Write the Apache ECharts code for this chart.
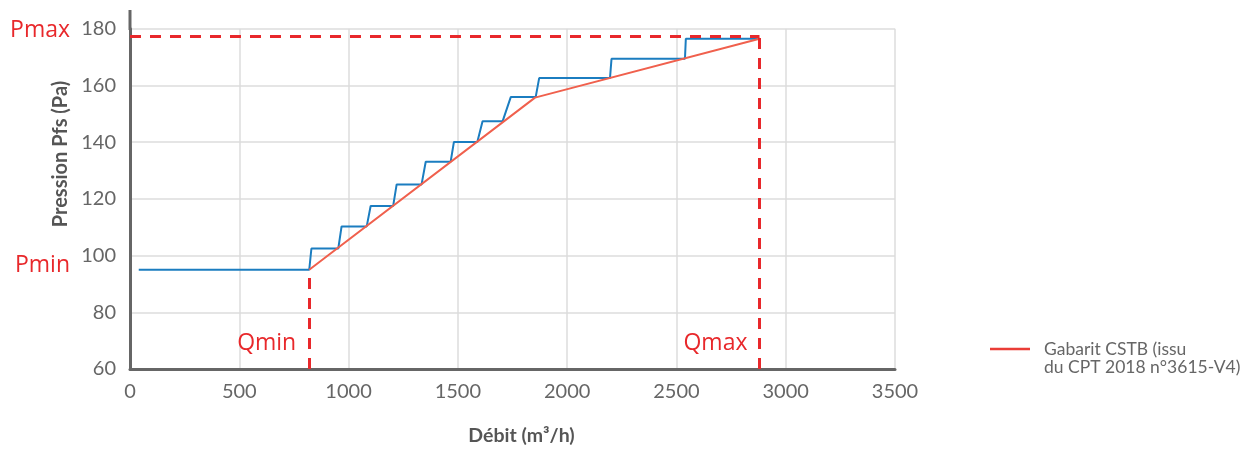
<!DOCTYPE html>
<html><head><meta charset="utf-8">
<script src="https://cdn.jsdelivr.net/npm/echarts@6/dist/echarts.min.js"></script>
<style>html,body{margin:0;padding:0;background:#fff}#c{width:1243px;height:451px}</style>
</head><body><div id="c"></div>
<script>
// Data
const xTicks = [0, 500, 1000, 1500, 2000, 2500, 3000, 3500];
const yTicks = [60, 80, 100, 120, 140, 160, 180];
const stepLine = [[40,95],[820,95],[830,102.5],[953,102.5],[968,110.3],[1083,110.3],[1101,117.5],[1204,117.5],[1220,125.1],[1334,125.1],[1353,133.1],[1467,133.1],[1482,140.1],[1589,140.1],[1613,147.4],[1705,147.4],[1742,155.9],[1856,155.9],[1872,162.6],[2196,162.6],[2203,169.4],[2539,169.4],[2543,176.5],[2880,176.5]];
const gabarit = [[820,95],[1853,155.7],[2880,176.5]];
const QMIN = 820, QMAX = 2880, PMIN = 95, PMAX = 177.5;
const gabaritName = 'Gabarit CSTB (issu\ndu CPT 2018 n°3615-V4)';

const chart = echarts.init(document.getElementById('c'));
const RED = '#e8282b';
const FONT = 'Lato';
chart.setOption({
  animation: false,
  textStyle: {fontFamily: FONT},
  grid: {left: 130, right: 348, top: 28.75, bottom: 78.75, containLabel: false},
  xAxis: {
    type: 'value', min: xTicks[0], max: xTicks[xTicks.length-1], interval: 500,
    name: 'Débit (m³/h)', nameLocation: 'middle', nameGap: 57,
    nameTextStyle: {fontFamily: FONT, fontWeight: 'bold', fontSize: 19.5, color: '#555', padding: [0, 0, 0, 18]},
    axisLine: {show: true, onZero: false, lineStyle: {color: '#666', width: 3}},
    axisTick: {show: false},
    axisLabel: {color: '#666', fontSize: 20, margin: 13, formatter: v => String(v)},
    splitLine: {show: true, lineStyle: {color: '#dcdcdc', width: 1.5}}
  },
  yAxis: {
    type: 'value', min: yTicks[0], max: yTicks[yTicks.length-1], interval: 20,
    axisLine: {show: true, lineStyle: {color: '#666', width: 3}},
    axisTick: {show: false},
    axisLabel: {color: '#666', fontSize: 20, margin: 14, formatter: v => String(v)},
    splitLine: {show: true, lineStyle: {color: '#dcdcdc', width: 1.5}}
  },
  legend: {
    data: [{name: gabaritName, icon: 'rect', itemStyle: {color: '#ea3d36'}}],
    left: 990, top: 322, padding: 0,
    itemWidth: 40, itemHeight: 2.5, itemGap: 10,
    formatter: n => '\n' + n.split('\n').map(s => '  ' + s).join('\n'),
    textStyle: {color: '#666', fontSize: 17.5, lineHeight: 18}
  },
  graphic: [
    {type: 'line', shape: {x1: 130, y1: 10, x2: 130, y2: 30}, style: {stroke: '#666', lineWidth: 3}},
    {type: 'text', x: 61, y: 154, rotation: Math.PI/2,
     style: {text: 'Pression Pfs (Pa)', fontFamily: FONT, fontWeight: 'bold', fontSize: 20, fill: '#555', textAlign: 'center', textVerticalAlign: 'middle'}}
  ],
  series: [
    {
      type: 'line', name: 'Débit', data: stepLine, showSymbol: false, symbol: 'none',
      lineStyle: {color: '#1b7dc0', width: 2}, itemStyle: {color: '#1b7dc0'}, z: 2
    },
    {
      type: 'line', name: gabaritName, data: gabarit, showSymbol: false, symbol: 'none',
      lineStyle: {color: '#f0604d', width: 2}, itemStyle: {color: '#f0604d'}, z: 3,
      markLine: {
        silent: true, symbol: 'none', animation: false,
        lineStyle: {color: RED, width: 3, type: [11, 9]},
        label: {show: false},
        data: [
          [{coord: [0, PMAX]}, {coord: [QMAX, PMAX]}],
          [{coord: [QMIN, 60]}, {coord: [QMIN, PMIN]}],
          [{coord: [QMAX, 60]}, {coord: [QMAX, PMAX]}]
        ]
      },
      markPoint: {
        silent: true, symbol: 'circle', symbolSize: 0, animation: false,
        label: {show: true, position: 'left', distance: 0, color: RED, fontSize: 23, fontFamily: 'Open Sans', formatter: '{b}'},
        data: [
          {name: 'Pmax', coord: [0, PMAX], label: {offset: [-60, -5]}},
          {name: 'Pmin', coord: [0, PMIN], label: {offset: [-60, -4]}},
          {name: 'Qmin', coord: [QMIN, 60], label: {offset: [-13, -26]}},
          {name: 'Qmax', coord: [QMAX, 60], label: {offset: [-12, -26]}}
        ]
      }
    }
  ]
});
</script></body></html>
